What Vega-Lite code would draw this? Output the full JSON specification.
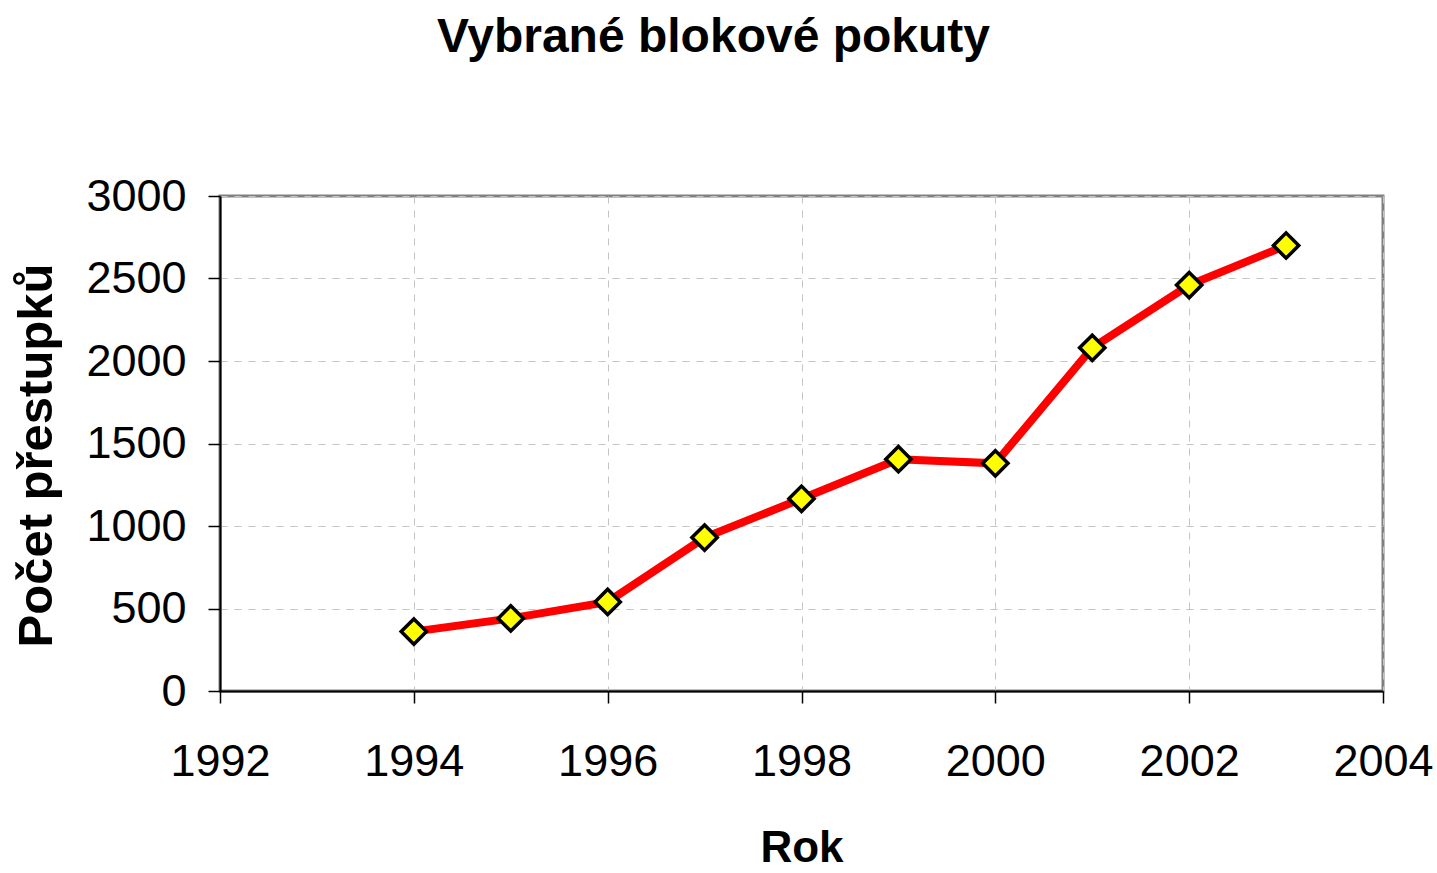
{
  "$schema": "https://vega.github.io/schema/vega-lite/v6.json",
  "autosize": "none",
  "width": 1163,
  "height": 495,
  "padding": {"left": 220, "top": 196, "right": 54, "bottom": 182},
  "background": "white",
  "title": {
    "text": "Vybrané blokové pokuty",
    "font": "Liberation Sans",
    "fontSize": 48,
    "fontWeight": "bold",
    "color": "black",
    "anchor": "middle",
    "frame": "group",
    "offset": 112,
    "dx": -88
  },
  "config": {
    "view": {"stroke": "#808080", "strokeWidth": 3},
    "axis": {
      "labelFont": "Liberation Sans",
      "labelFontSize": 45,
      "labelColor": "black",
      "titleFont": "Liberation Sans",
      "titleFontWeight": "bold",
      "titleColor": "black",
      "domainColor": "black",
      "domainWidth": 2,
      "tickColor": "black",
      "tickWidth": 1.5,
      "tickSize": 12,
      "gridColor": "#c4c4c4",
      "gridDash": [7, 7],
      "gridWidth": 1
    }
  },
  "data": {
    "values": [
      {"rok": 1994, "pocet": 360},
      {"rok": 1995, "pocet": 440},
      {"rok": 1996, "pocet": 540},
      {"rok": 1997, "pocet": 930},
      {"rok": 1998, "pocet": 1165},
      {"rok": 1999, "pocet": 1405},
      {"rok": 2000, "pocet": 1380},
      {"rok": 2001, "pocet": 2080},
      {"rok": 2002, "pocet": 2460},
      {"rok": 2003, "pocet": 2700}
    ]
  },
  "encoding": {
    "x": {
      "field": "rok",
      "type": "quantitative",
      "scale": {"domain": [1992, 2004], "nice": false, "zero": false},
      "axis": {
        "title": "Rok",
        "titleFontSize": 44,
        "titlePadding": 42,
        "labelPadding": 36,
        "values": [1992, 1994, 1996, 1998, 2000, 2002, 2004],
        "format": "d",
        "labelFlush": false,
        "labelOverlap": false
      }
    },
    "y": {
      "field": "pocet",
      "type": "quantitative",
      "scale": {"domain": [0, 3000], "nice": false},
      "axis": {
        "title": "Počet přestupků",
        "titleFontSize": 49,
        "titlePadding": 24,
        "titleY": 259,
        "labelPadding": 22,
        "values": [0, 500, 1000, 1500, 2000, 2500, 3000],
        "format": "d",
        "labelFlush": false,
        "labelOverlap": false
      }
    }
  },
  "layer": [
    {"mark": {"type": "line", "color": "#ff0000", "strokeWidth": 8}},
    {
      "mark": {
        "type": "point",
        "shape": "diamond",
        "size": 640,
        "filled": true,
        "fill": "#ffff00",
        "stroke": "black",
        "strokeWidth": 3.5,
        "opacity": 1
      }
    }
  ]
}
